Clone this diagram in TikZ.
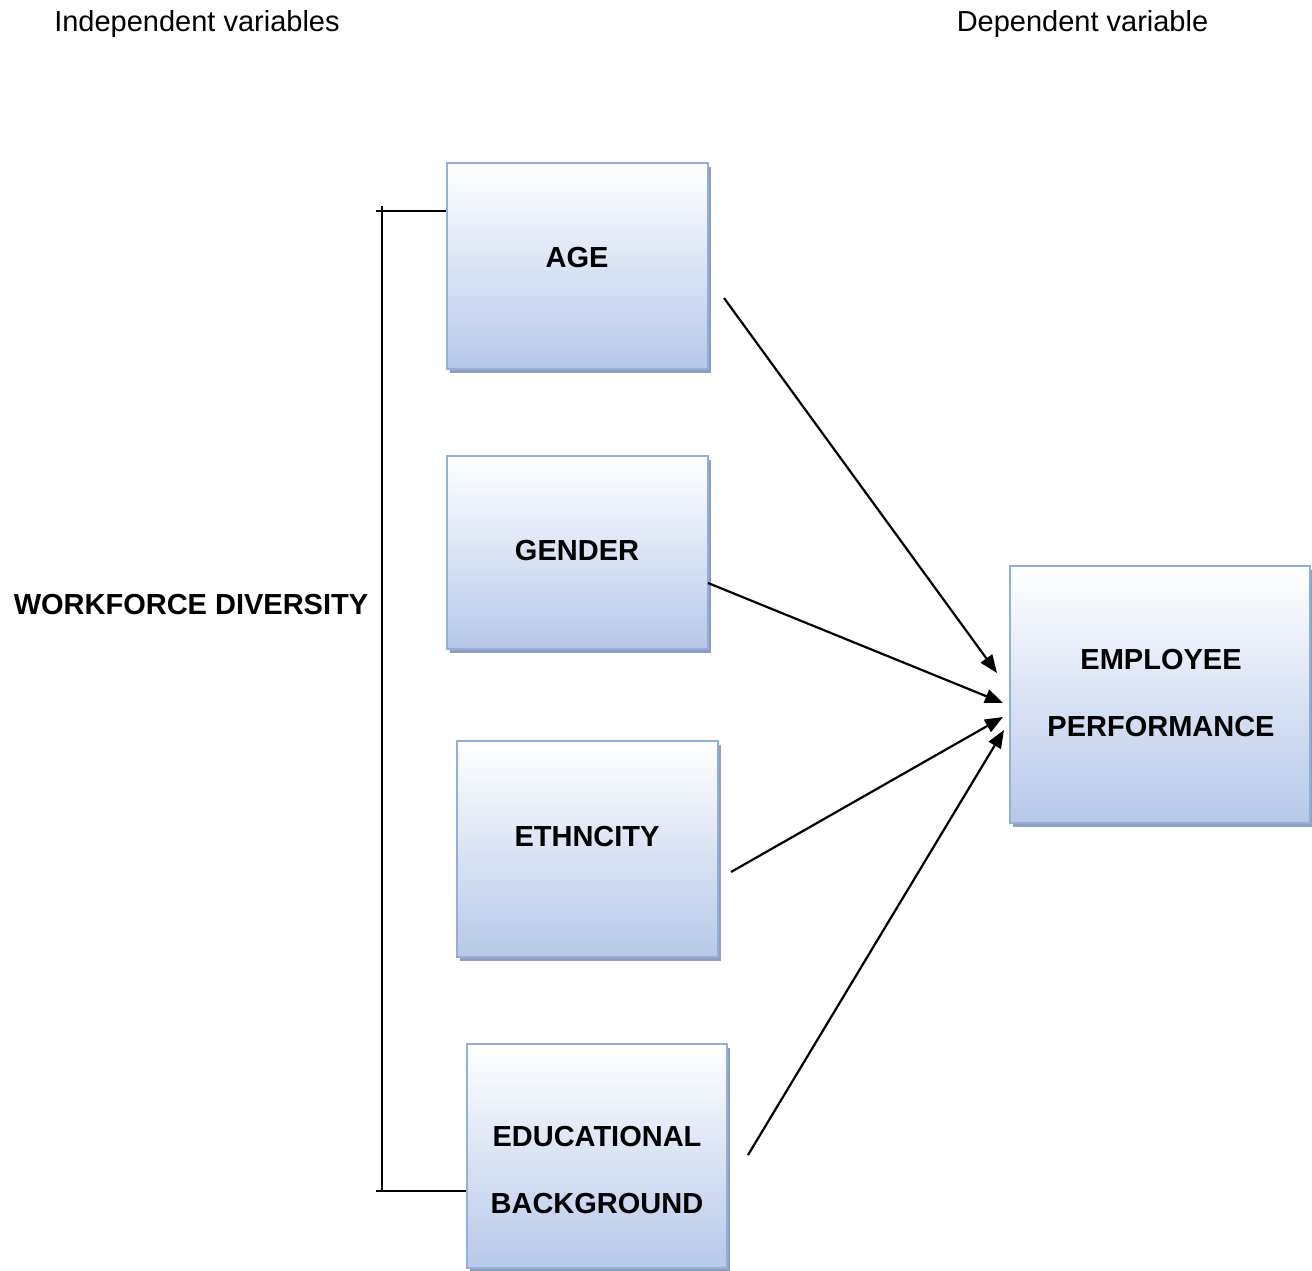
\documentclass[tikz,border=0pt]{standalone}
\usepackage{fontspec}
\setmainfont{Liberation Sans}
\usetikzlibrary{arrows.meta,shadows}
\definecolor{boxbot}{RGB}{182,200,233}
\definecolor{boxline}{RGB}{146,174,220}
\definecolor{shadowc}{RGB}{143,158,185}
\begin{document}
\begin{tikzpicture}[x=1pt,y=-1pt,
  varbox/.style={draw=boxline,line width=2.8pt,top color=white,bottom color=boxbot,
    inner sep=0pt,drop shadow={shadow xshift=3pt,shadow yshift=-4pt,fill=shadowc,opacity=1}},
  lbl/.style={font=\fontsize{29}{67}\selectfont\bfseries,align=center,inner sep=0pt},
  head/.style={font=\fontsize{29}{34}\selectfont,anchor=base,inner sep=0pt},
  conn/.style={line width=2.2pt,-{Triangle[length=18pt,width=14pt]}},
  brk/.style={line width=2.2pt}]
\useasboundingbox (0,0) rectangle (1312,1271);
% boxes
\node[varbox,minimum width=261pt,minimum height=206pt] (age) at (577.5,266) {};
\node[varbox,minimum width=261pt,minimum height=193pt] (gender) at (577.5,552.5) {};
\node[varbox,minimum width=261pt,minimum height=216pt] (eth) at (587.5,849) {};
\node[varbox,minimum width=260pt,minimum height=224pt] (edu) at (597,1156) {};
\node[varbox,minimum width=300pt,minimum height=257pt] (emp) at (1160,694.5) {};
% labels
\node[lbl] (tage) at (577,258) {AGE};
\node[lbl] (tgen) at (577,551) {GENDER};
\node[lbl] (teth) at (587,837) {ETHNCITY};
\node[lbl] (tedu) at (597,1170.5) {EDUCATIONAL\\BACKGROUND};
\node[lbl] (temp) at (1161,693.5) {EMPLOYEE\\PERFORMANCE};
\node[lbl] (wd) at (191,605) {WORKFORCE DIVERSITY};
\node[head] (iv) at (197,32) {Independent variables};
\node[head] (dv) at (1082.5,32) {Dependent variable};
% bracket
\coordinate (bt) at (382,206);
\coordinate (bb) at (382,1192);
\coordinate (ht) at (376,211);
\coordinate (hb) at (376,1191);
\draw[brk] (bt) -- (bb);
\draw[brk] (ht) -- (age.west |- ht);
\draw[brk] (hb) -- (edu.west |- hb);
% arrows
\coordinate (s1) at (724,298);
\coordinate (e1) at (997,673);
\coordinate (s2) at (708,583);
\coordinate (e2) at (1003,703);
\coordinate (s3) at (731,872);
\coordinate (e3) at (1003,717);
\coordinate (s4) at (748,1155);
\coordinate (e4) at (1004,730);
\draw[conn] (s1) -- (e1);
\draw[conn] (s2) -- (e2);
\draw[conn] (s3) -- (e3);
\draw[conn] (s4) -- (e4);
\end{tikzpicture}
\end{document}
